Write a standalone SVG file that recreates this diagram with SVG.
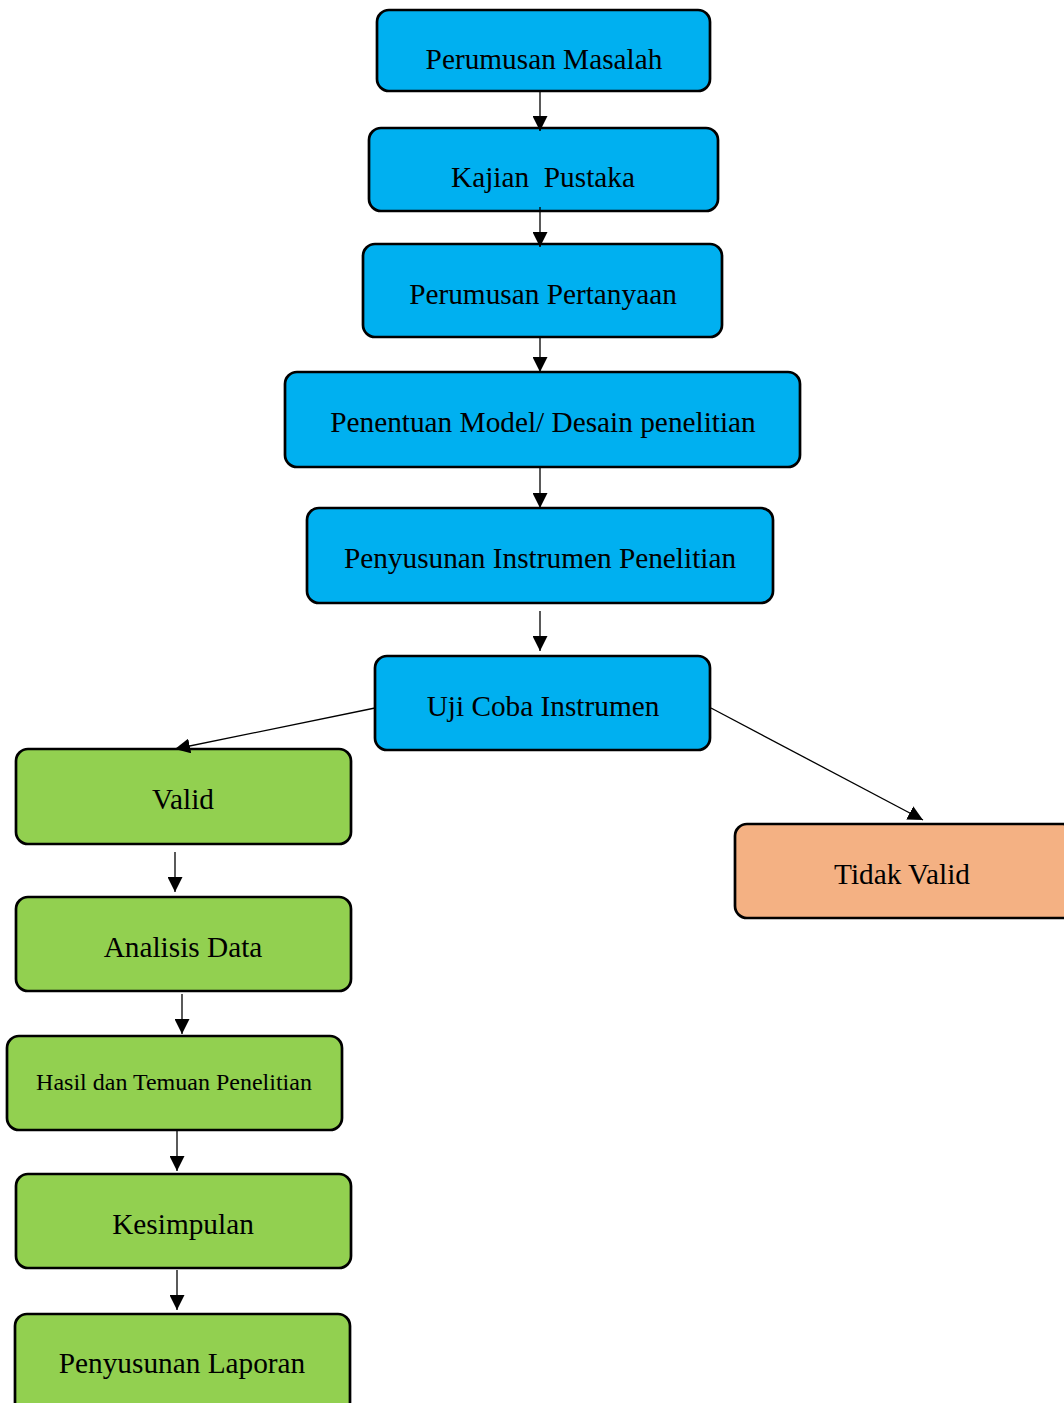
<svg xmlns="http://www.w3.org/2000/svg" width="1064" height="1403" viewBox="0 0 1064 1403">
<defs>
<style>
.box{stroke:#000;stroke-width:2.7}
.blue{fill:#00B0F0}
.green{fill:#92D050}
.orange{fill:#F4B183}
text{font-family:"Liberation Serif","Times New Roman",serif;font-size:29.3px;fill:#000;text-anchor:middle}
.small{font-size:24px}
.conn line{stroke:#000;stroke-width:1.3;fill:none}
</style>
<marker id="ah" viewBox="0 0 10 10" refX="10" refY="5" markerWidth="15" markerHeight="15" markerUnits="userSpaceOnUse" orient="auto">
<path d="M0,0 L10,5 L0,10 Z" fill="#000"/>
</marker>
</defs>
<rect width="1064" height="1403" fill="#fff"/>
<g id="n1"><rect class="box blue" x="377" y="10" width="333" height="81" rx="12"/><text x="544" y="69">Perumusan Masalah</text></g>
<g id="n2"><rect class="box blue" x="369" y="128" width="349" height="83" rx="12"/><text x="543" y="187" xml:space="preserve">Kajian  Pustaka</text></g>
<g id="n3"><rect class="box blue" x="363" y="244" width="359" height="93" rx="12"/><text x="543" y="304">Perumusan Pertanyaan</text></g>
<g id="n4"><rect class="box blue" x="285" y="372" width="515" height="95" rx="12"/><text x="543" y="432">Penentuan Model/ Desain penelitian</text></g>
<g id="n5"><rect class="box blue" x="307" y="508" width="466" height="95" rx="12"/><text x="540" y="568">Penyusunan Instrumen Penelitian</text></g>
<g id="n6"><rect class="box blue" x="375" y="656" width="335" height="94" rx="12"/><text x="543" y="716">Uji Coba Instrumen</text></g>
<g id="n7"><rect class="box green" x="16" y="749" width="335" height="95" rx="12"/><text x="183" y="809">Valid</text></g>
<g id="n8"><rect class="box orange" x="735" y="824" width="340" height="94" rx="12"/><text x="902" y="884">Tidak Valid</text></g>
<g id="n9"><rect class="box green" x="16" y="897" width="335" height="94" rx="12"/><text x="183" y="957">Analisis Data</text></g>
<g id="n10"><rect class="box green" x="7" y="1036" width="335" height="94" rx="12"/><text class="small" x="174" y="1090">Hasil dan Temuan Penelitian</text></g>
<g id="n11"><rect class="box green" x="16" y="1174" width="335" height="94" rx="12"/><text x="183" y="1234">Kesimpulan</text></g>
<g id="n12"><rect class="box green" x="15" y="1314" width="335" height="100" rx="12"/><text x="182" y="1373">Penyusunan Laporan</text></g>
<g id="connectors" class="conn">
<line x1="540" y1="91" x2="540" y2="131" marker-end="url(#ah)"/>
<line x1="540" y1="207" x2="540" y2="247" marker-end="url(#ah)"/>
<line x1="540" y1="337" x2="540" y2="372" marker-end="url(#ah)"/>
<line x1="540" y1="467" x2="540" y2="508" marker-end="url(#ah)"/>
<line x1="540" y1="611" x2="540" y2="651" marker-end="url(#ah)"/>
<line x1="375" y1="708" x2="175" y2="749" marker-end="url(#ah)"/>
<line x1="711" y1="708" x2="923" y2="820" marker-end="url(#ah)"/>
<line x1="175" y1="852" x2="175" y2="892" marker-end="url(#ah)"/>
<line x1="182" y1="994" x2="182" y2="1034" marker-end="url(#ah)"/>
<line x1="177" y1="1131" x2="177" y2="1171" marker-end="url(#ah)"/>
<line x1="177" y1="1270" x2="177" y2="1310" marker-end="url(#ah)"/>
</g>
</svg>
